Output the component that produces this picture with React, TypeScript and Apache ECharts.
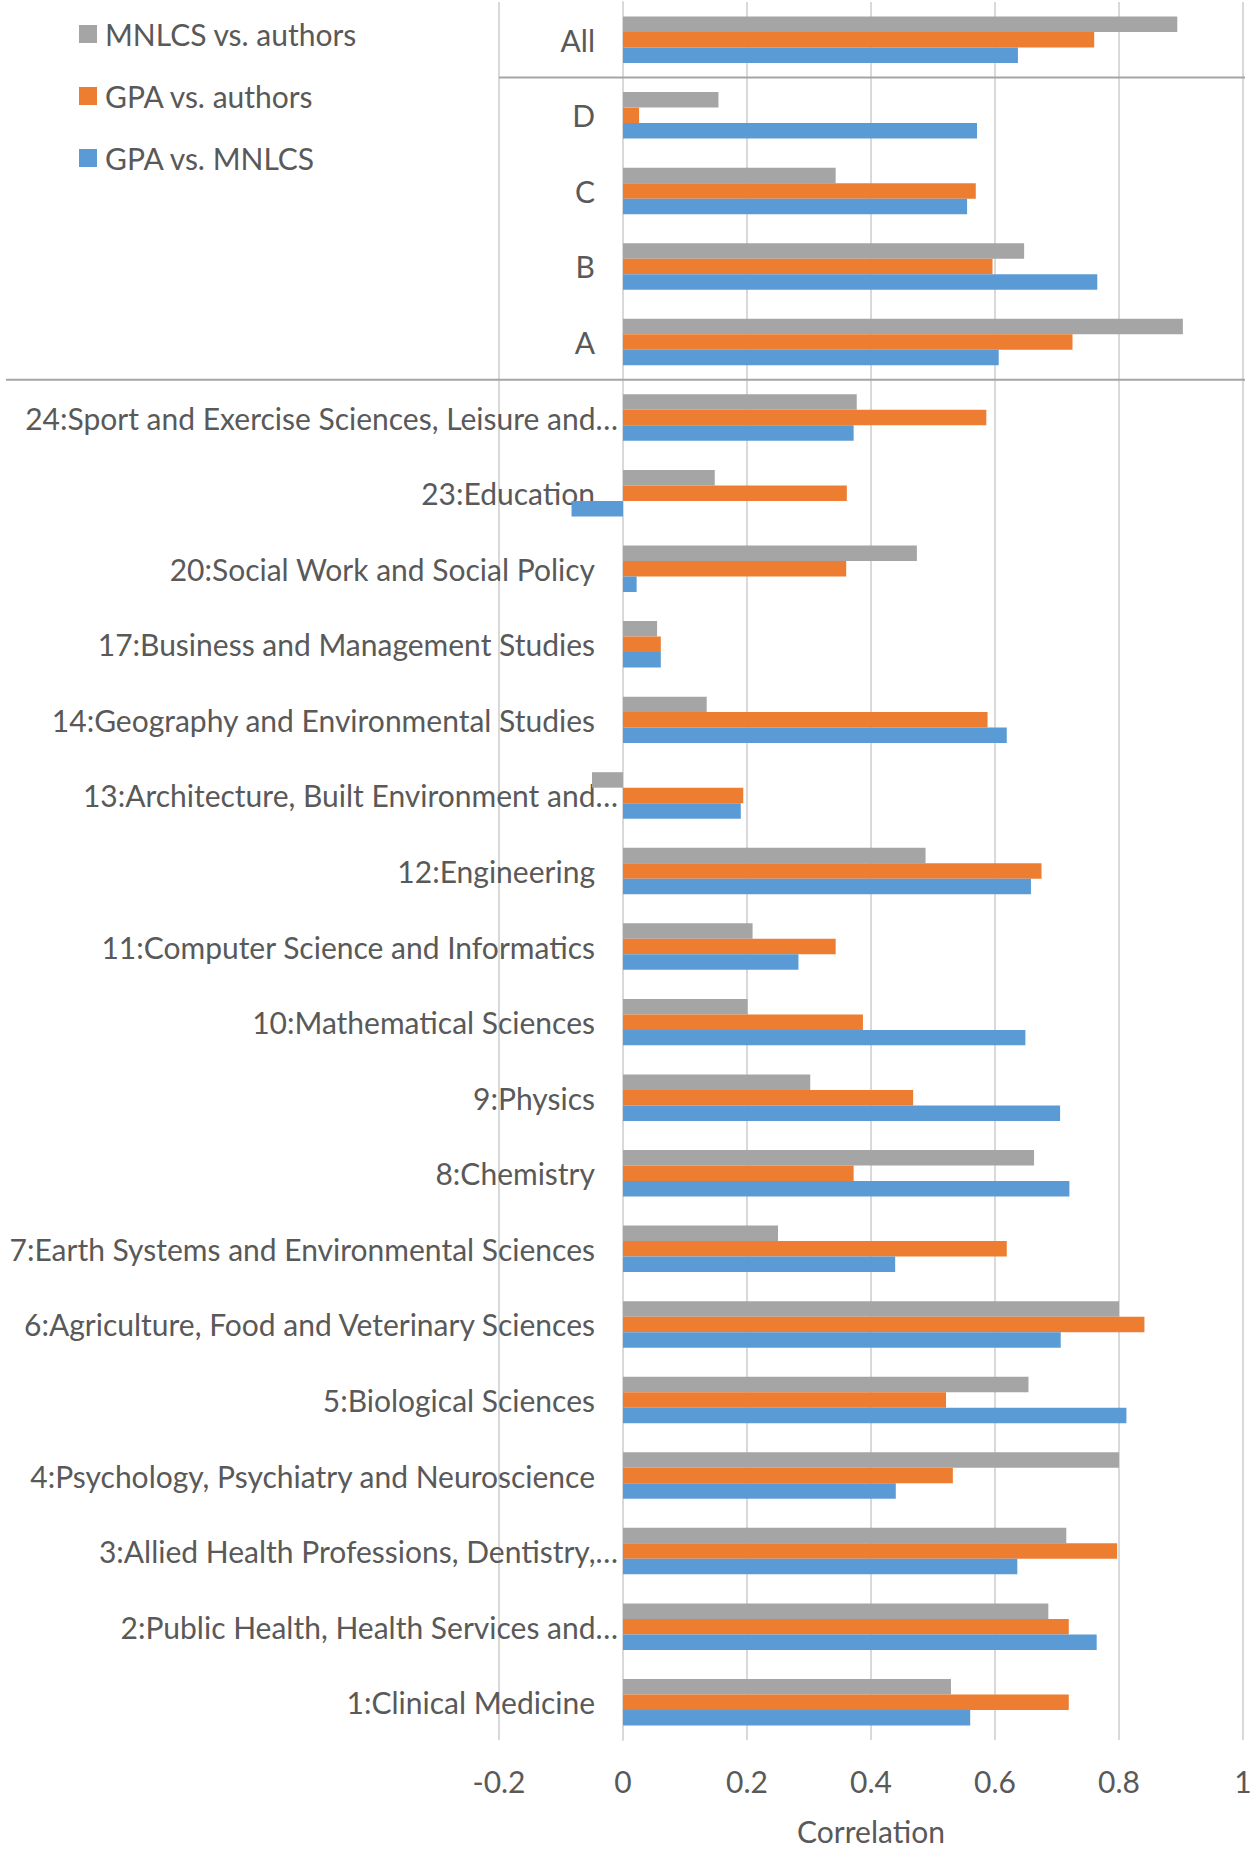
import React, { useEffect, useRef } from "react";
import * as echarts from "echarts";

const categories = [
  "All",
  "D",
  "C",
  "B",
  "A",
  "24:Sport and Exercise Sciences, Leisure and…",
  "23:Education",
  "20:Social Work and Social Policy",
  "17:Business and Management Studies",
  "14:Geography and Environmental Studies",
  "13:Architecture, Built Environment and…",
  "12:Engineering",
  "11:Computer Science and Informatics",
  "10:Mathematical Sciences",
  "9:Physics",
  "8:Chemistry",
  "7:Earth Systems and Environmental Sciences",
  "6:Agriculture, Food and Veterinary Sciences",
  "5:Biological Sciences",
  "4:Psychology, Psychiatry and Neuroscience",
  "3:Allied Health Professions, Dentistry,…",
  "2:Public Health, Health Services and…",
  "1:Clinical Medicine",
];

const mnlcsVsAuthors = [
  0.894, 0.154, 0.343, 0.647, 0.903, 0.377, 0.148, 0.474, 0.055, 0.135, -0.05,
  0.488, 0.209, 0.201, 0.302, 0.663, 0.25, 0.8, 0.654, 0.8, 0.715, 0.686, 0.529,
];

const gpaVsAuthors = [
  0.76, 0.026, 0.569, 0.596, 0.725, 0.586, 0.361, 0.36, 0.061, 0.588, 0.194,
  0.675, 0.343, 0.387, 0.468, 0.372, 0.619, 0.841, 0.521, 0.532, 0.797, 0.719,
  0.719,
];

const gpaVsMnlcs = [
  0.637, 0.571, 0.555, 0.765, 0.606, 0.372, -0.083, 0.022, 0.061, 0.619, 0.19,
  0.658, 0.283, 0.649, 0.705, 0.72, 0.439, 0.706, 0.812, 0.44, 0.636, 0.764,
  0.56,
];

const seriesNames = ["MNLCS vs. authors", "GPA vs. authors", "GPA vs. MNLCS"];
const seriesColors = ["#A5A5A5", "#ED7D31", "#5B9BD5"];
const xTicks = { min: -0.2, max: 1, interval: 0.2 };
const axisTitle = "Correlation";

const FONT = "Lato";
const FS = 30;
const TXT = "#595959";

const W = 1253;
const H = 1851;
const GRID = { left: 499, right: 10, top: 2, bottom: 111 };

export default function App() {
  const ref = useRef<HTMLDivElement>(null);

  useEffect(() => {
    document.body.style.margin = "0";
    if (!ref.current) return;
    const chart = echarts.init(ref.current, undefined, { renderer: "svg" });
    const dataSets = [mnlcsVsAuthors, gpaVsAuthors, gpaVsMnlcs];
    const gridWidth = W - GRID.left - GRID.right;
    const zeroOffset =
      (gridWidth * (0 - xTicks.min)) / (xTicks.max - xTicks.min);
    const option: any = {
      animation: false,
      backgroundColor: "#ffffff",
      textStyle: { fontFamily: FONT, color: TXT },
      legend: {
        orient: "vertical",
        left: 79,
        top: 17,
        padding: 0,
        itemWidth: 18,
        itemHeight: 18,
        itemGap: 28,
        icon: "rect",
        data: seriesNames,
        textStyle: {
          fontFamily: FONT,
          fontSize: FS,
          color: TXT,
          lineHeight: 34,
          padding: [0, 0, 0, 3],
        },
      },
      grid: {
        ...GRID,
        outerBoundsMode: "none",
        containLabel: false,
      },
      xAxis: {
        type: "value",
        min: xTicks.min,
        max: xTicks.max,
        interval: xTicks.interval,
        name: axisTitle,
        nameLocation: "middle",
        nameGap: 76,
        nameTextStyle: { fontFamily: FONT, fontSize: FS, color: TXT },
        axisLine: { show: false },
        axisTick: { show: false },
        axisLabel: {
          margin: 26,
          fontFamily: FONT,
          fontSize: FS,
          color: TXT,
          formatter: (v: number) => String(Math.round(v * 10) / 10),
        },
        splitLine: { show: true, lineStyle: { color: "#D9D9D9", width: 2 } },
      },
      yAxis: {
        type: "category",
        inverse: true,
        data: categories,
        offset: -zeroOffset,
        axisLine: {
          show: true,
          onZero: false,
          lineStyle: { color: "#D9D9D9", width: 2 },
        },
        axisTick: { show: false },
        splitLine: { show: false },
        axisLabel: {
          margin: 5,
          interval: 0,
          fontFamily: FONT,
          fontSize: FS,
          color: TXT,
          formatter: (v: string) => (v.endsWith("…") ? `{t|${v}}` : `{n|${v}}`),
          rich: {
            n: {
              fontFamily: FONT,
              fontSize: FS,
              color: TXT,
              padding: [0, 23, 0, 0],
            },
            t: { fontFamily: FONT, fontSize: FS, color: TXT },
          },
        },
      },
      series: seriesNames.map((name, i) => ({
        name,
        type: "bar",
        data: dataSets[i],
        itemStyle: { color: seriesColors[i] },
        barGap: "0%",
        barCategoryGap: "38.5%",
      })),
    };
    chart.setOption(option);

    const yOf = (c: string) => chart.convertToPixel({ yAxisIndex: 0 }, c) as number;
    const xStart = chart.convertToPixel({ xAxisIndex: 0 }, xTicks.min) as number;
    const xEnd = chart.convertToPixel({ xAxisIndex: 0 }, xTicks.max) as number;
    const sep1 = (yOf(categories[0]) + yOf(categories[1])) / 2;
    const sep2 = (yOf(categories[4]) + yOf(categories[5])) / 2;
    chart.setOption({
      graphic: [
        {
          type: "line",
          shape: { x1: xStart, y1: sep1, x2: xEnd + 2, y2: sep1 },
          style: { stroke: "#A5A5A5", lineWidth: 2 },
          z: 100,
        },
        {
          type: "line",
          shape: { x1: 6, y1: sep2, x2: xEnd + 2, y2: sep2 },
          style: { stroke: "#A5A5A5", lineWidth: 2 },
          z: 100,
        },
      ],
    });

    return () => chart.dispose();
  }, []);

  return (
    <div
      ref={ref}
      style={{ position: "absolute", left: 0, top: 0, width: W, height: H }}
    />
  );
}
